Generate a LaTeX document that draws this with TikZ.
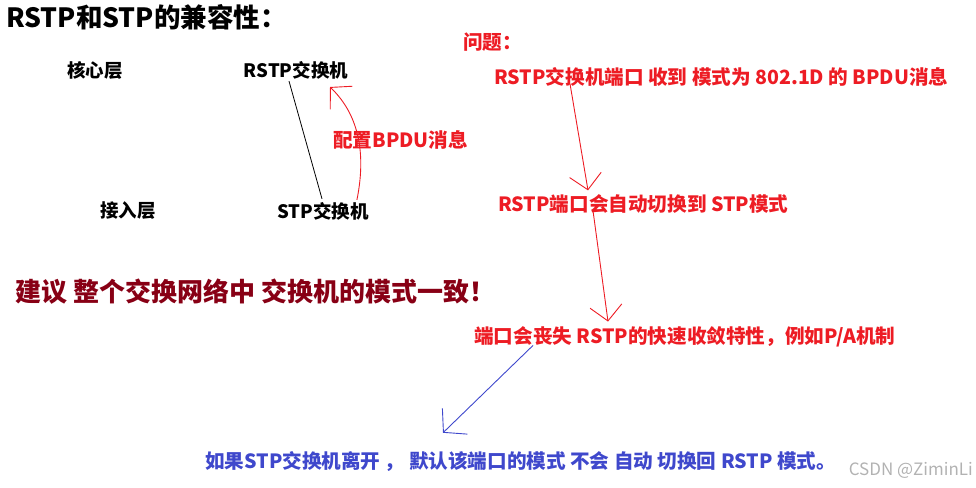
\documentclass[tikz,border=0pt]{standalone}
\usepackage{fontspec}
\setmainfont{Noto Sans CJK SC}
\usepackage{tikz}
\usetikzlibrary{arrows.meta,calc}

\definecolor{penred}{RGB}{237,28,36}
\definecolor{darkred}{RGB}{136,0,21}
\definecolor{penblue}{RGB}{63,72,204}

\begin{document}
\begin{tikzpicture}[
    x=1pt, y=-1pt,
    lbl/.style={inner sep=0pt, font=\fontsize{18.5}{20}\selectfont\bfseries},
    note/.style={inner sep=0pt, font=\fontsize{19.6}{21}\selectfont\bfseries, text=penred, anchor=west},
    big/.style={inner sep=0pt, anchor=west, font=\fontsize{26.5}{28}\selectfont\bfseries},
    redarrow/.style={-{Straight Barb[length=15pt,width=32pt]}, penred, line width=0.9pt},
    bluearrow/.style={-{Straight Barb[length=16pt,width=36pt]}, penblue, line width=0.9pt}
]
\useasboundingbox (0,0) rectangle (976,487);

\node[big] (title) at (6,17) {RSTP和STP的兼容性：};

\node[lbl] (core)   at (95,70)  {核心层};
\node[lbl] (rstp)   at (296,70) {RSTP交换机};
\node[lbl] (access) at (128,211){接入层};
\node[lbl] (stp)    at (323,211){STP交换机};
\node[note] (bpdu)  at (333,140){配置BPDU消息};

\node[note] (issue) at (463,42)  {问题：};
\node[note] (q1)    at (494,77)  {RSTP交换机端口 收到 模式为 802.1D 的 BPDU消息};
\node[note] (q2)    at (498,204) {RSTP端口会自动切换到 STP模式};
\node[note] (q3)    at (474,337) {端口会丧失 RSTP的快速收敛特性，例如P/A机制};
\node[note, text=penblue] (q4) at (205,461) {如果STP交换机离开 ， 默认该端口的模式 不会 自动 切换回 RSTP 模式。};

\node[big, text=darkred, font=\fontsize{26}{28}\selectfont\bfseries] (advice) at (15,292) {建议 整个交换网络中 交换机的模式一致！};

\node[inner sep=0pt, anchor=east, text=black!30, font=\fontsize{17}{18}\selectfont] (mark) at (973,470) {CSDN @ZiminLi};

% link between the two switches
\draw[line width=0.8pt] ($(rstp.south)+(-7,2)$) -- ($(stp.north)+(-1,-3)$);
% BPDU sent up to the RSTP switch
\coordinate (tipA) at (330,87);
\draw[redarrow] ($(stp.north east)+(-12,-2)$) .. controls (368,145) and (354,110) .. (tipA);

\draw[redarrow] ($(q1.south west)+(76,-3)$) -- ($(q2.north west)+(90,-4)$);
\draw[redarrow] ($(q2.south west)+(95,-3)$) -- ($(q3.north west)+(134,-5)$);
\draw[bluearrow] ($(q3.south west)+(59,-2)$) -- ($(q4.north west)+(238,-18)$);
\end{tikzpicture}
\end{document}
